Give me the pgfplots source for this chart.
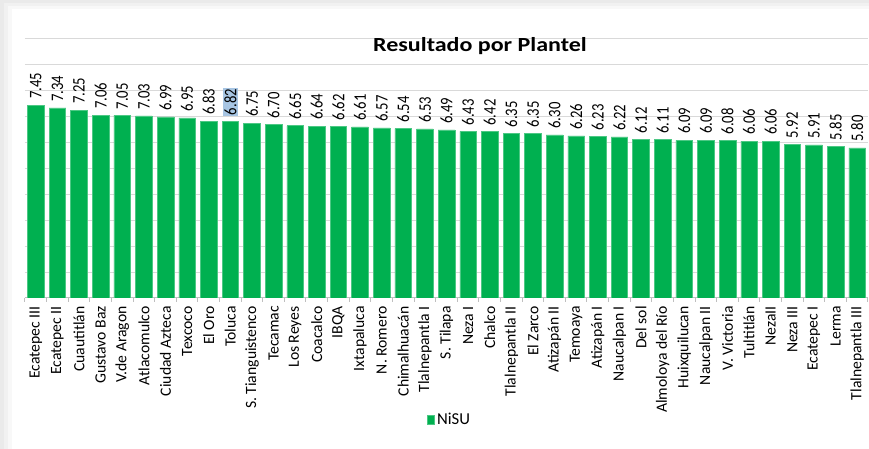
\documentclass[border=0pt]{standalone}
\usepackage{fontspec}
\setmainfont{Carlito}
\usepackage{pgfplots}
\pgfplotsset{compat=1.18}
\definecolor{barg}{HTML}{00B050}
\definecolor{gridc}{HTML}{D9D9D9}
\definecolor{axisc}{HTML}{BFBFBF}
\definecolor{selc}{HTML}{A7C5E3}
\definecolor{sh1}{HTML}{EAEAEA}
\definecolor{sh2}{HTML}{F1F1F1}
\definecolor{sh3}{HTML}{F8F8F8}
\begin{document}
\begin{tikzpicture}
% background with faint shadow (1px = 0.75pt; axis box lower-left at (0,0))
\fill[sh1] (-18.75pt,-113.25pt) rectangle (633pt,223.5pt);
\fill[sh2] (-15.75pt,-113.25pt) rectangle (633pt,221.25pt);
\fill[sh3] (-12.75pt,-113.25pt) rectangle (633pt,219pt);
\fill[white] (-9.75pt,-113.25pt) rectangle (633pt,216.75pt);
\begin{axis}[
  at={(0,0)}, anchor=south west,
  scale only axis, width=632.25pt, height=194.25pt,
  ybar, bar width=12.5pt, bar shift=0pt,
  xmin=-0.5, xmax=38.5, ymin=0, ymax=10,
  axis x line*=bottom, axis y line*=left,
  y axis line style={draw=none},
  x axis line style={draw=axisc, line width=0.75pt},
  ytick={0,1,...,10}, yticklabels={},
  ytick style={draw=none},
  ymajorgrids, grid style={draw=gridc, line width=0.75pt},
  major tick length=0pt,
  xtick={0,1,...,38},
  xtick style={draw=axisc, line width=0.75pt},
  extra x ticks={-0.5,0.5,...,38.5},
  extra x tick labels={},
  extra x tick style={major tick length=3pt, tick align=outside},
  xticklabels={Ecatepec III,Ecatepec II,Cuautitlán,Gustavo Baz,V.de Aragon,Atlacomulco,Ciudad Azteca,Texcoco,El Oro,Toluca,S. Tianguistenco,Tecamac,Los Reyes,Coacalco,IBQA,Ixtapaluca,N. Romero,Chimalhuacán,Tlalnepantla I,S. Tilapa,Neza I,Chalco,Tlalnepantla II,El Zarco,Atizapán II,Temoaya,Atizapán I,Naucalpan I,Del sol,Almoloya del Río,Huixquilucan,Naucalpan II,V. Victoria,Tultitlán,NezaII,Neza III,Ecatepec I,Lerma,Tlalnepantla III},
  xticklabel style={font=\fontsize{11.75}{13}\selectfont, rotate=90, anchor=east, inner sep=6pt, text=black},
  title={Resultado por Plantel},
  title style={at={(rel axis cs:0.5397,0.919)}, anchor=base, font=\fontsize{15}{18}\selectfont\bfseries, xscale=1.2},
  legend style={at={(0.504,-0.471)}, anchor=center, draw=none, fill=none, font=\fontsize{12.5}{14}\selectfont, xscale=1.6},
  legend image code/.code={\fill[#1] (0pt,-3.4pt) rectangle (5.2pt,3.4pt);},
  point meta=y,
  nodes near coords={\pgfmathprintnumber[fixed,fixed zerofill,precision=2,assume math mode=true]{\pgfplotspointmeta}},
  every node near coord/.append style={font=\fontsize{11}{13}\selectfont, xscale=1.2, rotate=90, anchor=west, inner sep=4.5pt, text=black},
]
\addplot[fill=barg, draw=barg!70!white, line width=0.4pt, bar shift=0pt] coordinates {
(0,7.45) (1,7.34) (2,7.25) (3,7.06) (4,7.05) (5,7.03) (6,6.99) (7,6.95) (8,6.83) (9,6.82)
(10,6.75) (11,6.70) (12,6.65) (13,6.64) (14,6.62) (15,6.61) (16,6.57) (17,6.54) (18,6.53) (19,6.49)
(20,6.43) (21,6.42) (22,6.35) (23,6.35) (24,6.30) (25,6.26) (26,6.23) (27,6.22) (28,6.12) (29,6.11)
(30,6.09) (31,6.09) (32,6.08) (33,6.06) (34,6.06) (35,5.92) (36,5.91) (37,5.85) (38,5.80)};
\addlegendentry{NiSU}
\addplot[draw=none, fill=none, bar shift=0pt, forget plot,
  every node near coord/.append style={fill=selc, inner sep=1pt, xshift=3.5pt}] coordinates {(9,6.82)};
\end{axis}
\pgfresetboundingbox
\path[use as bounding box] (-18.75pt,-113.25pt) rectangle (633pt,223.5pt);
\end{tikzpicture}
\end{document}
